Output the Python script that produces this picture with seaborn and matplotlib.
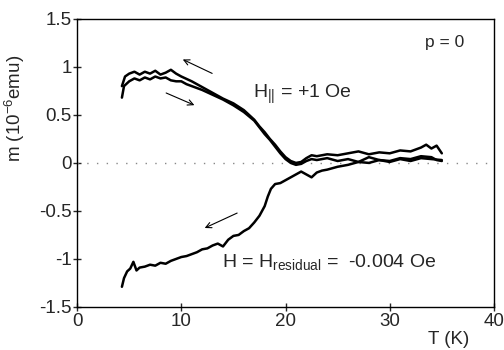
import numpy as np
import matplotlib
matplotlib.use('Agg')
import matplotlib.pyplot as plt
import seaborn as sns

# 위쪽 루프 (냉각 branch, H|| = +1 Oe)
t_cool = [4.3, 4.6, 5.0, 5.5, 6.0, 6.5, 7.0, 7.5, 8.0, 8.5, 9.0, 9.5, 10, 11, 12, 13, 14, 15, 16, 17,
          17.5, 18, 18.5, 19, 19.5, 20, 20.5, 21, 21.5, 22, 22.5, 23, 24, 25, 26, 27, 28, 29, 30, 31,
          32, 33, 33.5, 34, 34.5, 35]
m_cool = [0.80, 0.90, 0.93, 0.95, 0.92, 0.95, 0.93, 0.96, 0.92, 0.94, 0.97, 0.93, 0.90, 0.85, 0.79,
          0.73, 0.67, 0.62, 0.55, 0.45, 0.38, 0.32, 0.25, 0.19, 0.12, 0.06, 0.02, 0.00, 0.01, 0.05,
          0.08, 0.07, 0.09, 0.08, 0.10, 0.12, 0.09, 0.11, 0.10, 0.13, 0.12, 0.16, 0.19, 0.15, 0.18, 0.10]

# 위쪽 루프 (가열 branch)
t_warm = [4.3, 4.5, 5.0, 5.5, 6.0, 6.5, 7.0, 7.5, 8.0, 8.5, 9.0, 9.5, 10, 10.5, 11, 12, 13, 14, 15,
          16, 17, 17.5, 18, 18.5, 19, 19.5, 20, 20.5, 21, 21.5, 22, 22.5, 23, 24, 25, 26, 27, 28, 29,
          30, 31, 32, 33, 34, 34.5, 35]
m_warm = [0.68, 0.80, 0.85, 0.88, 0.86, 0.89, 0.87, 0.90, 0.88, 0.89, 0.86, 0.85, 0.85, 0.82, 0.80,
          0.76, 0.71, 0.66, 0.60, 0.53, 0.44, 0.37, 0.30, 0.24, 0.17, 0.10, 0.04, 0.00, -0.02, -0.01,
          0.02, 0.04, 0.03, 0.05, 0.02, 0.04, 0.01, 0.06, 0.03, 0.02, 0.05, 0.04, 0.07, 0.06, 0.03, 0.02]

# 아래쪽 곡선 (H = H_residual)
t_res = [4.3, 4.5, 4.8, 5.1, 5.4, 5.7, 6.0, 6.5, 7, 7.5, 8, 8.5, 9, 9.5, 10, 10.5, 11, 11.5, 12, 12.5,
         13, 13.5, 14, 14.5, 15, 15.5, 16, 16.5, 17, 17.5, 18, 18.3, 18.6, 19, 19.5, 20, 20.5, 21,
         21.5, 22, 22.5, 23, 23.5, 24, 25, 26, 27, 28, 29, 30, 31, 32, 33, 34, 35]
m_res = [-1.29, -1.20, -1.13, -1.10, -1.03, -1.12, -1.09, -1.08, -1.06, -1.07, -1.04, -1.05, -1.02,
         -1.00, -0.98, -0.97, -0.95, -0.93, -0.90, -0.89, -0.86, -0.84, -0.87, -0.80, -0.76, -0.75,
         -0.71, -0.68, -0.62, -0.55, -0.45, -0.35, -0.27, -0.22, -0.21, -0.18, -0.15, -0.12, -0.09,
         -0.12, -0.15, -0.10, -0.08, -0.07, -0.04, -0.02, 0.01, 0.00, 0.03, 0.01, 0.04, 0.02, 0.05,
         0.04, 0.03]

x_ticks = [0, 10, 20, 30, 40]
y_ticks = [-1.5, -1, -0.5, 0, 0.5, 1, 1.5]
y_ticklabels = ['-1.5', '-1', '-0.5', '0', '0.5', '1', '1.5']

sns.set_style('white')
plt.rcParams['font.family'] = ['Liberation Sans', 'DejaVu Sans']
plt.rcParams['mathtext.default'] = 'regular'

fig = plt.figure(figsize=(5.04, 3.5), dpi=100)
ax = fig.add_axes([0.153, 0.123, 0.827, 0.823])

ax.axhline(0, color='#888888', lw=1, ls=(0, (1, 6)))

for tt, mm in [(t_cool, m_cool), (t_warm, m_warm), (t_res, m_res)]:
    sns.lineplot(x=tt, y=mm, sort=False, estimator=None, color='black', lw=1.8, ax=ax)

# 화살표
arr = dict(arrowstyle='->', color='black', lw=0.8)
ax.annotate('', xy=(9.9, 1.09), xytext=(13.2, 0.92), arrowprops=arr)
ax.annotate('', xy=(11.5, 0.59), xytext=(8.3, 0.74), arrowprops=arr)
ax.annotate('', xy=(12.0, -0.69), xytext=(15.6, -0.51), arrowprops=arr)

ax.text(33.4, 1.21, 'p = 0', fontsize=12.5, va='baseline')
ax.text(16.9, 0.68, r'H$_{||}$ = +1 Oe', fontsize=14, va='baseline')
ax.text(13.9, -1.083, r'H = H$_{residual}$ =  -0.004 Oe', fontsize=14, va='baseline')

ax.set_xlim(0, 40)
ax.set_ylim(-1.5, 1.5)
ax.set_xticks(x_ticks)
ax.set_yticks(y_ticks)
ax.set_yticklabels(y_ticklabels)
ax.tick_params(direction='inout', length=6, width=1, labelsize=13.5, pad=1,
               top=False, right=False, left=True, bottom=True)
for s in ax.spines.values():
    s.set_color('black')
    s.set_linewidth(1)

ax.set_xlabel('T (K)', fontsize=13.5)
ax.xaxis.set_label_coords(0.892, -0.085)
ax.set_ylabel('m (10$^{-6}$emu)', fontsize=13.5)
ax.yaxis.set_label_coords(-0.12, 0.69)

fig.savefig('out.png', dpi=100)
